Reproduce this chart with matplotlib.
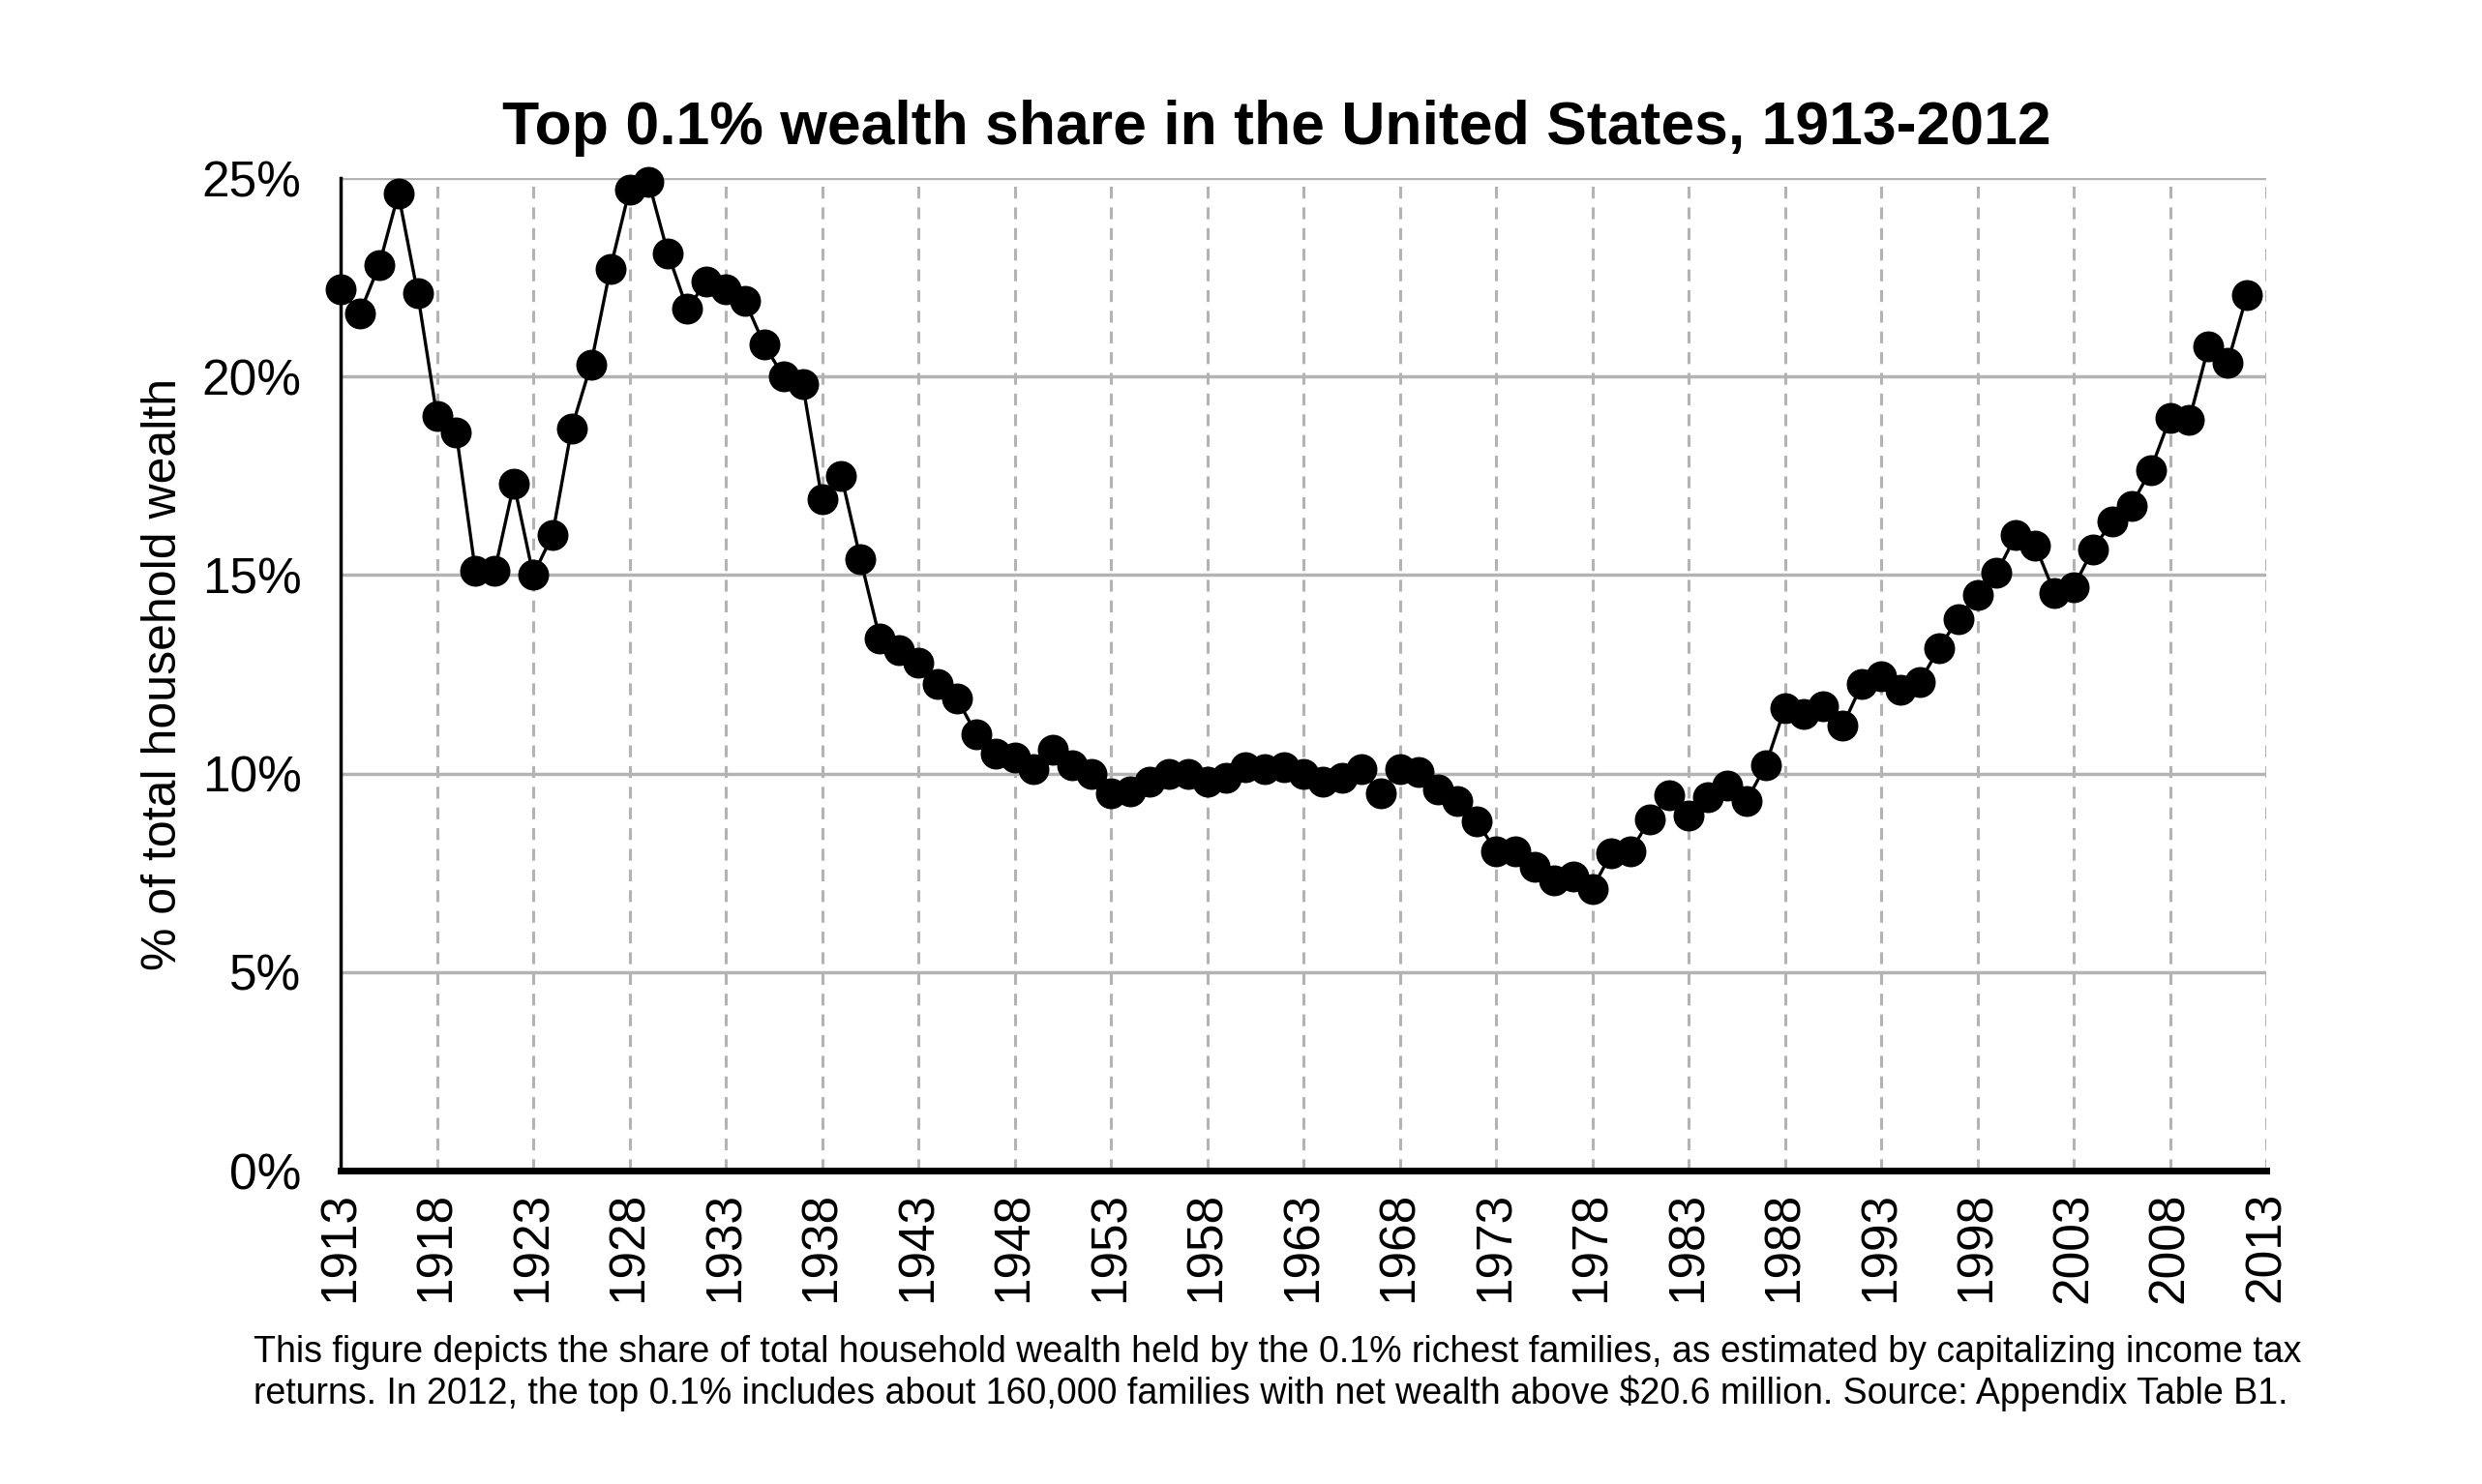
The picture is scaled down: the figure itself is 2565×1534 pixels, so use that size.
import numpy as np
import matplotlib.pyplot as plt
from matplotlib.ticker import FuncFormatter

plt.rcParams['font.family'] = ['Liberation Sans', 'DejaVu Sans']

# Top 0.1% wealth share
years = list(range(1913, 2013))
share = [
    22.2, 21.6, 22.8, 24.6, 22.1, 19.0, 18.6, 15.1, 15.1, 17.3,   # 1913-1922
    15.0, 16.0, 18.7, 20.3, 22.7, 24.7, 24.9, 23.1, 21.7, 22.4,   # 1923-1932
    22.2, 21.9, 20.8, 20.0, 19.8, 16.9, 17.5, 15.4, 13.4, 13.1,   # 1933-1942
    12.8, 12.25, 11.9, 11.0, 10.5, 10.4, 10.1, 10.6, 10.2, 10.0,  # 1943-1952
    9.5, 9.55, 9.8, 10.0, 10.0, 9.8, 9.9, 10.15, 10.1, 10.15,     # 1953-1962
    10.0, 9.8, 9.9, 10.1, 9.5, 10.1, 10.05, 9.6, 9.3, 8.8,        # 1963-1972
    8.05, 8.05, 7.65, 7.3, 7.4, 7.1, 8.0, 8.05, 8.85, 9.45,       # 1973-1982
    8.95, 9.4, 9.7, 9.3, 10.2, 11.65, 11.5, 11.7, 11.2, 12.25,    # 1983-1992
    12.45, 12.1, 12.3, 13.15, 13.9, 14.5, 15.05, 16.0, 15.75, 14.55,  # 1993-2002
    14.7, 15.65, 16.35, 16.75, 17.65, 18.95, 18.9, 20.75, 20.35, 22.05,  # 2003-2012
]
xticks = list(range(1913, 2014, 5))
yticks = [0, 5, 10, 15, 20, 25]

title = 'Top 0.1% wealth share in the United States, 1913-2012'
ylabel = '% of total household wealth'
note = ('This figure depicts the share of total household wealth held by the 0.1% richest families, '
        'as estimated by capitalizing income tax\n'
        'returns. In 2012, the top 0.1% includes about 160,000 families with net wealth above '
        '$20.6 million. Source: Appendix Table B1.')

W, H = 2565, 1534
fig = plt.figure(figsize=(W / 100, H / 100), dpi=100)
left, right, top, bottom = 352, 2342, 184, 1210
ax = fig.add_axes([left / W, 1 - bottom / H, (right - left) / W, (bottom - top) / H])

ax.plot(years, share, color='black', lw=2.4, marker='o', ms=22, zorder=3, clip_on=False)

ax.set_xlim(1913, 2013)
ax.set_ylim(0, 25)
ax.set_xticks(xticks)
ax.set_yticks(yticks)
ax.yaxis.set_major_formatter(FuncFormatter(lambda v, p: '%d%%' % v))
ax.tick_params(axis='x', labelrotation=90, labelsize=37, length=0, pad=16)
ax.tick_params(axis='y', labelsize=37, length=0, pad=29)

ax.grid(axis='y', color='#b3b3b3', lw=2.5, ls='-')
ax.grid(axis='x', color='#b3b3b3', lw=2.2, ls=(0, (4, 3)))
ax.set_axisbelow(True)

for s in ['top', 'right']:
    ax.spines[s].set_visible(False)
ax.spines['left'].set_linewidth(2.5)
ax.spines['bottom'].set_linewidth(5)

ax.set_ylabel(ylabel, fontsize=36, labelpad=12)
fig.text(((left + right) / 2 - 28) / W, 1 - 133 / H, title, fontsize=45, fontweight='bold',
         ha='center', va='center')
fig.text(262 / W, 1 - 1380 / H, note, fontsize=27, ha='left', va='top', linespacing=1.2)

plt.savefig('out.png', dpi=100)
